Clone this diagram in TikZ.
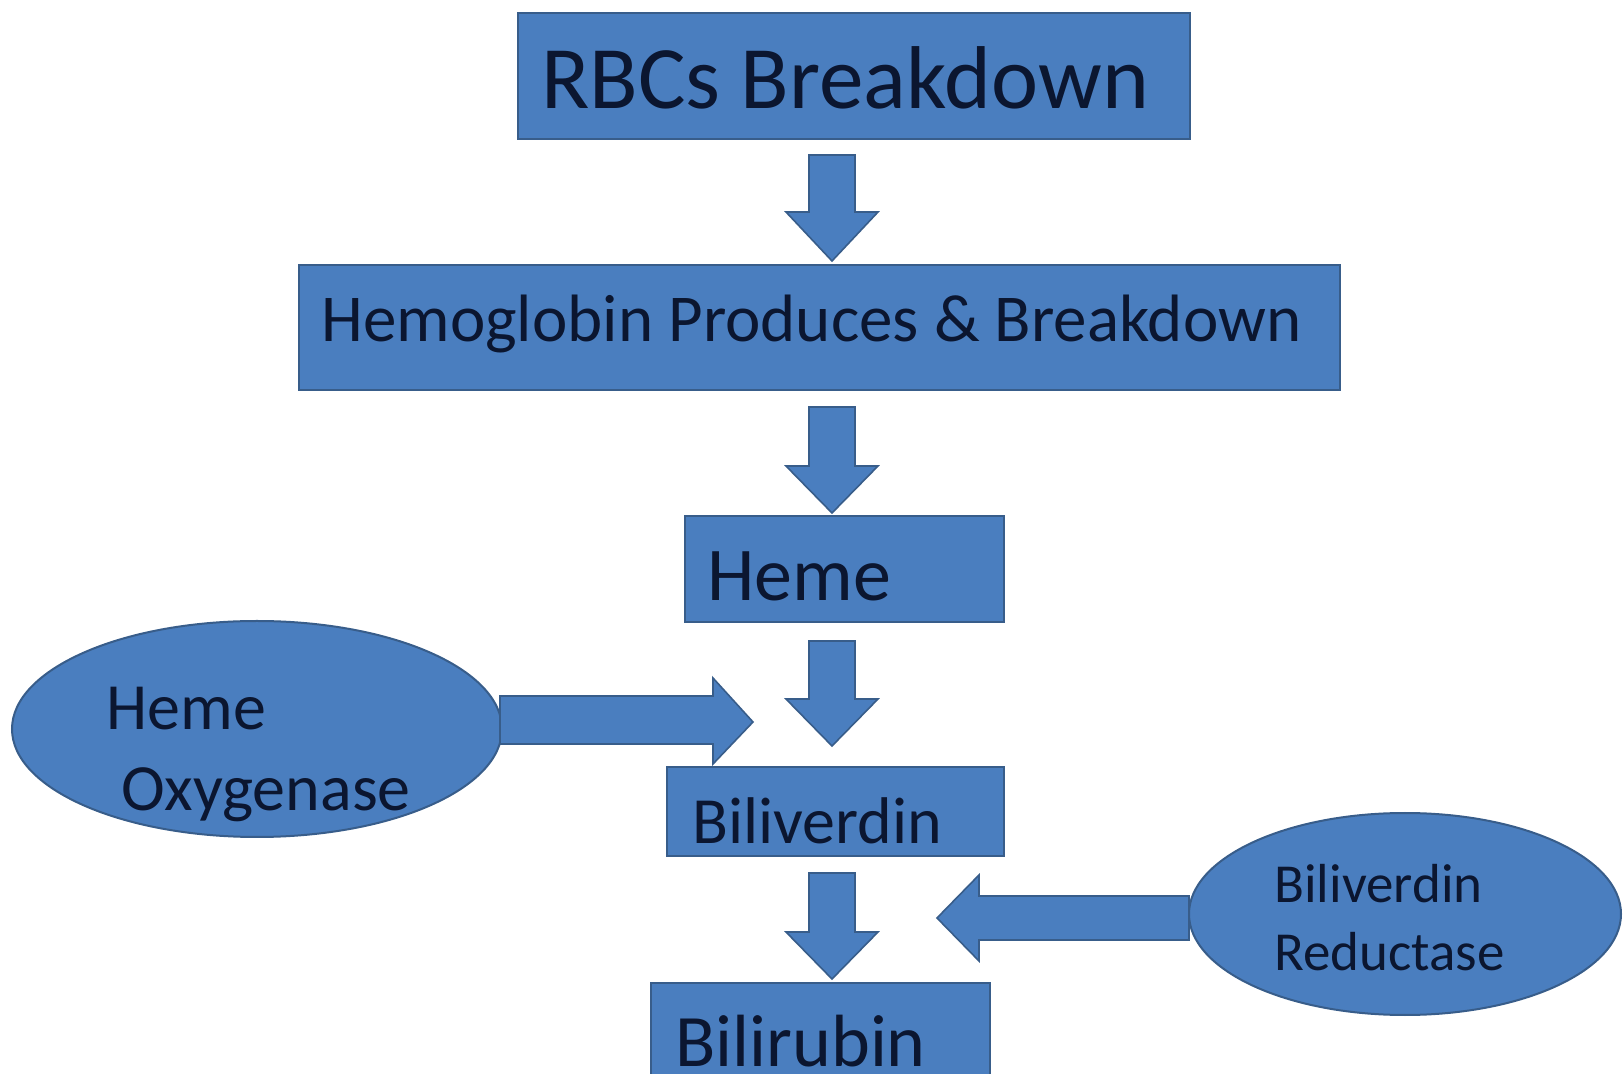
\documentclass[tikz,border=0pt]{standalone}
\usepackage{fontspec}
\setmainfont{Carlito}
\usetikzlibrary{shapes.geometric}
\definecolor{boxfill}{HTML}{4A7EBF}
\definecolor{boxline}{HTML}{385D8A}
\definecolor{txt}{HTML}{0B1630}
\tikzset{
  blk/.style={draw=boxline, line width=1.2pt, fill=boxfill, inner sep=0pt, anchor=north west},
  oval/.style={ellipse, draw=boxline, line width=1pt, fill=boxfill, inner sep=0pt},
  barrow/.style={draw=boxline, line width=0.8pt, fill=boxfill, line join=miter},
  lbl/.style={anchor=base west, inner sep=0pt, text=txt}
}
\newcommand{\fs}[1]{\fontsize{#1}{#1}\selectfont}
% down block arrow: center x, top y, head-start y, tip y
\newcommand{\downblk}[4]{%
  \draw[barrow] (#1-23,#2) -- (#1+23,#2) -- (#1+23,#3) -- (#1+46,#3) -- (#1,#4)
    -- (#1-46,#3) -- (#1-23,#3) -- cycle;}
\begin{document}
\begin{tikzpicture}[x=0.5pt,y=-0.5pt]
\clip (0,0) rectangle (1624,1074);
\fill[white] (0,0) rectangle (1624,1074);

% boxes
\node[blk, minimum width=336pt, minimum height=63pt] (rbc) at (517,12) {};
\node[blk, minimum width=520.5pt, minimum height=62.5pt] (hemo) at (298,264) {};
\node[blk, minimum width=159.5pt, minimum height=53pt] (heme) at (684,515) {};
\node[blk, minimum width=168.5pt, minimum height=44.5pt] (bili) at (666,766) {};
\node[blk, minimum width=169.5pt, minimum height=60pt] (bilir) at (650,982) {};

% ellipses
\node[oval, minimum width=245pt, minimum height=108pt] (ho) at (257,729) {};
\node[oval, minimum width=216pt, minimum height=101pt] (br) at (1405,914) {};

% down arrows
\downblk{832}{155}{212}{261}
\downblk{832}{407}{466}{513}
\downblk{832}{641}{699}{746}
\downblk{832}{873}{932}{979}

% side arrows
\draw[barrow] (500,696) -- (713,696) -- (713,678) -- (753,722) -- (713,764)
  -- (713,744) -- (500,744) -- cycle;
\draw[barrow] (1189,896) -- (979,896) -- (979,875) -- (937,918) -- (979,961)
  -- (979,940) -- (1189,940) -- cycle;

% texts
\node[lbl] (t1) at (541,109) {\fs{44.6}RBCs Breakdown};
\node[lbl] (t2) at (321,342) {\fs{33.5}Hemoglobin Produces \& Breakdown};
\node[lbl] (t3) at (707,601) {\fs{38}Heme};
\node[lbl] (t4) at (692,844) {\fs{33}Biliverdin};
\node[lbl] (t5) at (675,1066) {\fs{37}Bilirubin};
\node[lbl] (t6) at (106,730) {\fs{33}Heme};
\node[lbl] (t7) at (121,811) {\fs{33}Oxygenase};
\node[lbl] (t8) at (1274,903) {\fs{27.5}Biliverdin};
\node[lbl] (t9) at (1274,971) {\fs{27.5}Reductase};
\end{tikzpicture}
\end{document}
